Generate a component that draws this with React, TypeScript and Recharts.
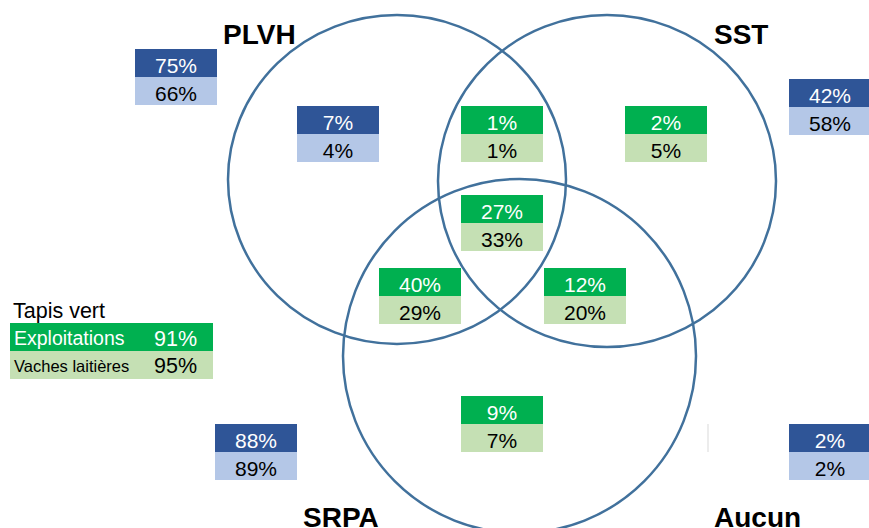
import { ScatterChart, Scatter, XAxis, YAxis, ReferenceLine } from "recharts";

const FONT = '"Liberation Sans", Arial, sans-serif';
const DARK_BLUE = "#2F5597";
const LIGHT_BLUE = "#B4C7E7";
const GREEN = "#00B050";
const LIGHT_GREEN = "#C5E0B4";
const RING = "#41719C";

// Zones du diagramme et parts (%) : exploitations / vaches laitières
const zones = [
  "PLVH total",
  "PLVH seul",
  "PLVH + SST",
  "SST seul",
  "SST total",
  "PLVH + SST + SRPA",
  "PLVH + SRPA",
  "SST + SRPA",
  "SRPA seul",
  "SRPA total",
  "Aucun",
];
const exploitations = [75, 7, 1, 2, 42, 27, 40, 12, 9, 88, 2];
const vaches = [66, 4, 1, 5, 58, 33, 29, 20, 7, 89, 2];
const tones = ["blue", "blue", "green", "green", "blue", "green", "green", "green", "green", "blue", "blue"];

// Tapis vert
const tapisTitle = "Tapis vert";
const tapisLabels = ["Exploitations", "Vaches laitières"];
const tapisValues = [91, 95];

// Ensembles
const setNames = ["PLVH", "SST", "SRPA", "Aucun"];

// --- mise en page (coordonnées du plan 869 x 528) ---
const zoneX = [176, 338, 502, 666, 830, 502, 420, 585, 502, 256, 830];
const zoneY = [49, 106, 106, 106, 79, 195, 268, 268, 396, 424, 424];
const setX = [223, 714, 303, 714];
const setY = [44, 44, 527, 527];
const ringCx = [397, 607, 519.5];
const ringCy = [179.5, 181, 356];
const ringRx = [169, 169, 176.5];
const ringRy = [164.5, 166, 177];

const W = 869;
const H = 528;

const ringData = ringCx.map((x, i) => ({
  name: setNames[i],
  x,
  y: ringCy[i],
  rx: ringRx[i],
  ry: ringRy[i],
}));

const boxData = zones.map((name, i) => ({
  name,
  x: zoneX[i],
  y: zoneY[i],
  top: exploitations[i],
  bottom: vaches[i],
  tone: tones[i],
}));

const labelData = setNames.map((name, i) => ({ name, x: setX[i], y: setY[i] }));

const tapisData = [{ x: 10, y: 323 }];

function Ring(props: any) {
  const { cx, cy, payload } = props;
  return (
    <ellipse
      cx={cx}
      cy={cy}
      rx={payload.rx}
      ry={payload.ry}
      fill="none"
      stroke={RING}
      strokeWidth={2.5}
    />
  );
}

function Box(props: any) {
  const { cx, cy, payload } = props;
  const w = 82;
  const h = 28;
  const blue = payload.tone === "blue";
  return (
    <g>
      <rect x={cx - w / 2} y={cy} width={w} height={h} fill={blue ? DARK_BLUE : GREEN} />
      <rect x={cx - w / 2} y={cy + h} width={w} height={h} fill={blue ? LIGHT_BLUE : LIGHT_GREEN} />
      <text x={cx} y={cy + 24} textAnchor="middle" fontFamily={FONT} fontSize={21} fill="#ffffff">
        {payload.top}%
      </text>
      <text x={cx} y={cy + h + 24} textAnchor="middle" fontFamily={FONT} fontSize={21} fill="#000000">
        {payload.bottom}%
      </text>
    </g>
  );
}

function SetLabel(props: any) {
  const { cx, cy, payload } = props;
  return (
    <text x={cx} y={cy} fontFamily={FONT} fontSize={28} fontWeight="bold" fill="#000000">
      {payload.name}
    </text>
  );
}

function Tapis(props: any) {
  const { cx, cy } = props;
  const w = 203;
  const h = 28;
  return (
    <g>
      <text x={cx + 3} y={cy - 5} fontFamily={FONT} fontSize={21.5} fill="#000000">
        {tapisTitle}
      </text>
      <rect x={cx} y={cy} width={w} height={h} fill={GREEN} />
      <rect x={cx} y={cy + h} width={w} height={h} fill={LIGHT_GREEN} />
      <text x={cx + 4} y={cy + 22} fontFamily={FONT} fontSize={19.5} fill="#ffffff">
        {tapisLabels[0]}
      </text>
      <text x={cx + 144} y={cy + 23} fontFamily={FONT} fontSize={21.5} fill="#ffffff">
        {tapisValues[0]}%
      </text>
      <text x={cx + 4} y={cy + h + 21} fontFamily={FONT} fontSize={16.5} fill="#000000">
        {tapisLabels[1]}
      </text>
      <text x={cx + 144} y={cy + h + 22} fontFamily={FONT} fontSize={21.5} fill="#000000">
        {tapisValues[1]}%
      </text>
    </g>
  );
}

export default function App() {
  return (
    <div style={{ position: "absolute", left: 0, top: 0, width: W, height: H, background: "#ffffff" }}>
      <ScatterChart width={W} height={H} margin={{ top: 0, right: 0, bottom: 0, left: 0 }}>
        <XAxis type="number" dataKey="x" domain={[0, W]} hide allowDataOverflow />
        <YAxis type="number" dataKey="y" domain={[0, H]} reversed hide allowDataOverflow />
        <Scatter data={ringData} shape={Ring} isAnimationActive={false} />
        <ReferenceLine
          segment={[
            { x: 708, y: 424 },
            { x: 708, y: 452 },
          ]}
          stroke="#d9d9d9"
          strokeWidth={1}
        />
        <Scatter data={boxData} shape={Box} isAnimationActive={false} />
        <Scatter data={labelData} shape={SetLabel} isAnimationActive={false} />
        <Scatter data={tapisData} shape={Tapis} isAnimationActive={false} />
      </ScatterChart>
    </div>
  );
}
